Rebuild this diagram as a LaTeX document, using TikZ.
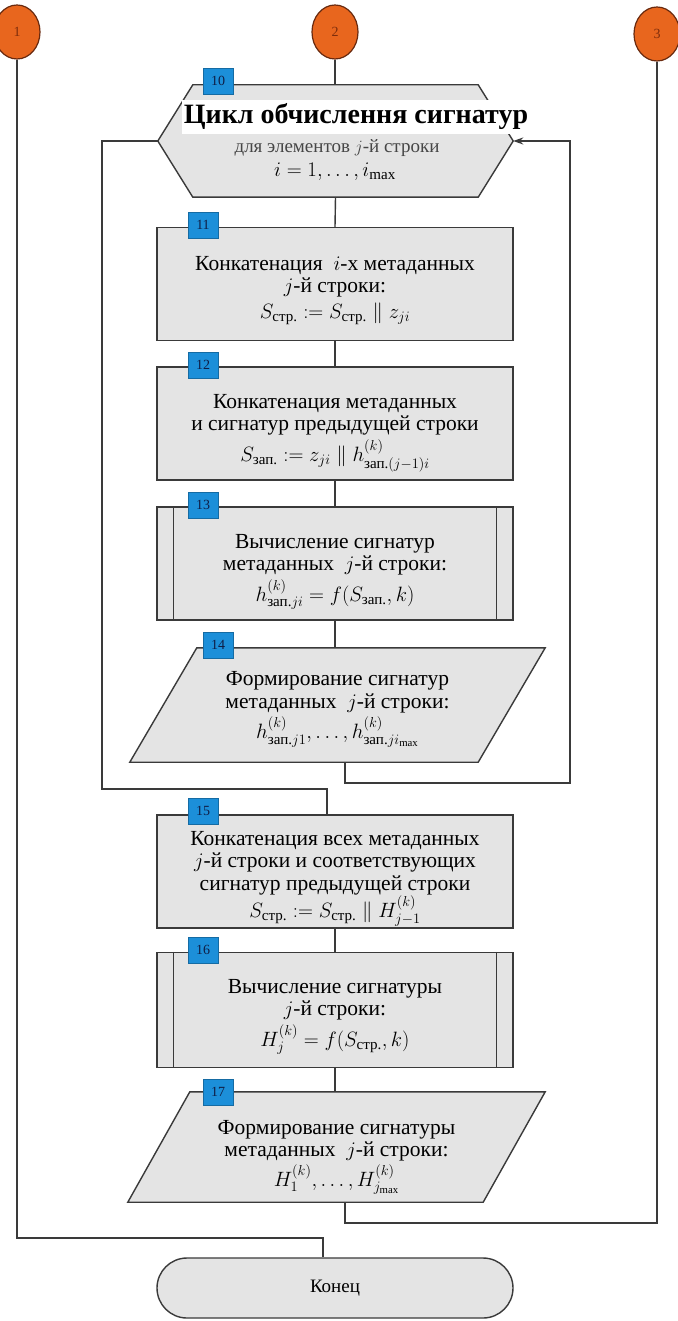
\documentclass[tikz,border=0pt]{standalone}
\usepackage{fontspec}
\setmainfont{Liberation Serif}
\usepackage{amsmath}
\usetikzlibrary{calc,arrows.meta,shapes.geometric,backgrounds}

\definecolor{linegray}{RGB}{58,58,58}
\definecolor{blockfill}{RGB}{228,228,228}
\definecolor{badgeblue}{RGB}{28,143,217}
\definecolor{badgetext}{RGB}{15,30,70}
\definecolor{connorange}{RGB}{232,102,30}
\definecolor{connedge}{RGB}{105,42,15}
\definecolor{conntext}{RGB}{125,45,12}
\definecolor{subtext}{RGB}{70,70,70}

% subscripts used in the formulas
\newcommand{\sstr}{\text{стр.}}
\newcommand{\szap}{\text{зап.}}
% taller first line, so that the text sits lower in its block
\newcommand{\pushdown}[1]{\rule{0pt}{#1}}

\begin{document}
\begin{tikzpicture}[x=1pt,y=-1pt,
  flow/.style={draw=linegray,line width=1.4pt},
  shapeline/.style={draw=linegray,fill=blockfill,line width=1.4pt},
  blockbox/.style={shapeline,minimum width=356pt,minimum height=113pt,inner sep=0pt,
    align=center,font=\fontsize{21.5}{22.5}\selectfont},
  holder/.style={inner sep=0pt,align=center,font=\fontsize{21.5}{22.5}\selectfont},
  badge/.style={fill=badgeblue,draw=badgeblue!75!black,line width=0.6pt,
    minimum width=30pt,minimum height=26pt,inner sep=0pt,
    font=\fontsize{14}{14}\selectfont,text=badgetext},
  connector/.style={shape=ellipse,fill=connorange,draw=connedge,line width=1.2pt,
    minimum width=46pt,minimum height=54pt,inner sep=0pt,
    font=\fontsize{14}{14}\selectfont,text=conntext},
  endbox/.style={shapeline,rounded corners=30pt,minimum width=356pt,minimum height=60pt,
    font=\fontsize{19}{20}\selectfont}
]
\useasboundingbox (0,0) rectangle (677,1321);
\begin{pgfonlayer}{background}
\fill[white] (0,0) rectangle (677,1321);
\end{pgfonlayer}

% off-page connectors
\node[connector] (c1) at (17,32) {1};
\node[connector] (c2) at (335,32) {2};
\node[connector] (c3) at (657,34) {3};

% 10: loop header (hexagon)
\node[holder,minimum width=355pt,minimum height=112pt] (n10) at (335.5,141) {};
\begin{pgfonlayer}{background}
\draw[shapeline] ($(n10.north west)+(35,0)$) -- ($(n10.north east)+(-35,0)$) -- (n10.east)
  -- ($(n10.south east)+(-35,0)$) -- ($(n10.south west)+(35,0)$) -- (n10.west) -- cycle;
\end{pgfonlayer}
\node[font=\fontsize{19}{20}\selectfont,text=subtext] (n10b) at (337,148) {для элементов $j$-й строки};
\node[font=\fontsize{21.5}{22.5}\selectfont] (n10c) at (335,172) {$i=1,\ldots,i_{\max}$};
\node[fill=white,inner xsep=2pt,inner ysep=4pt,font=\bfseries\fontsize{28}{30}\selectfont] (n10a) at (356,117) {Цикл обчислення сигнатур};

% 11..13
\node[blockbox] (n11) at (335,284) {\pushdown{27pt}Конкатенация \ $i$-х метаданных\\ $j$-й строки:\\[3pt] $S_{\sstr} := S_{\sstr}\parallel z_{ji}$};
\node[blockbox] (n12) at (335,423.5) {\pushdown{33pt}Конкатенация метаданных\\ и сигнатур предыдущей строки\\[3pt] $S_{\szap} := z_{ji}\parallel h^{(k)}_{\szap(j-1)i}$};
\node[blockbox] (n13) at (335,563.5) {\pushdown{31pt}Вычисление сигнатур\\ метаданных \ $j$-й строки:\\[3pt] $h^{(k)}_{\szap ji} = f(S_{\szap},k)$};
\draw[flow] ($(n13.north west)+(17,0)$) -- ($(n13.south west)+(17,0)$);
\draw[flow] ($(n13.north east)+(-17,0)$) -- ($(n13.south east)+(-17,0)$);

% 14: data output (parallelogram)
\node[holder,minimum width=415pt,minimum height=114pt] (n14) at (337.5,705) {\pushdown{23pt}Формирование сигнатур\\ метаданных \ $j$-й строки:\\[3pt] $h^{(k)}_{\szap j1},\ldots,h^{(k)}_{\szap ji_{\max}}$};
\begin{pgfonlayer}{background}
\draw[shapeline] (n14.south west) -- ($(n14.north west)+(67,0)$) -- (n14.north east)
  -- ($(n14.south east)+(-67,0)$) -- cycle;
\end{pgfonlayer}

% 15..16
\node[blockbox] (n15) at (335,871.5) {\pushdown{28pt}Конкатенация всех метаданных\\ $j$-й строки и соответствующих\\ сигнатур предыдущей строки\\ $S_{\sstr} := S_{\sstr}\parallel H^{(k)}_{j-1}$};
\node[blockbox,minimum height=115pt] (n16) at (335,1010) {\pushdown{28pt}Вычисление сигнатуры\\ $j$-й строки:\\[3pt] $H^{(k)}_j = f(S_{\sstr},k)$};
\draw[flow] ($(n16.north west)+(17,0)$) -- ($(n16.south west)+(17,0)$);
\draw[flow] ($(n16.north east)+(-17,0)$) -- ($(n16.south east)+(-17,0)$);

% 17: data output (parallelogram)
\node[holder,minimum width=417pt,minimum height=110pt] (n17) at (336.5,1147) {\pushdown{35pt}Формирование сигнатуры\\ метаданных \ $j$-й строки:\\[2pt] $H^{(k)}_1,\ldots,H^{(k)}_{j_{\max}}$};
\begin{pgfonlayer}{background}
\draw[shapeline] (n17.south west) -- ($(n17.north west)+(62,0)$) -- (n17.north east)
  -- ($(n17.south east)+(-62,0)$) -- cycle;
\end{pgfonlayer}

% terminator
\node[endbox] (fin) at (335,1288) {Конец};

% flow lines
\draw[flow] (c2.south) -- (c2.south |- n10.north);
\draw[flow] (n10.south) -- (n11.north);
\draw[flow] (n11.south) -- (n12.north);
\draw[flow] (n12.south) -- (n13.north);
\draw[flow] (n13.south) -- (n13.south |- n14.north);
\draw[flow] (n15.south) -- (n16.north);
\draw[flow] (n16.south) -- (n16.south |- n17.north);

% loop return and loop exit
\coordinate (rloop) at (570,783);
\coordinate (lloop) at (102,789);
\draw[flow,-{Stealth[length=10pt,width=7pt]}] ($(n14.south)+(7.5,0)$) |- (rloop) |- (n10.east);
\draw[flow] (n10.west) -| (lloop) -| ($(n15.north)+(-8,0)$);

% ways to the other pages and to the end
\coordinate (rbot) at (657,1223);
\coordinate (lbot) at (323,1238);
\draw[flow] ($(n17.south)+(8.5,0)$) |- (rbot) -- (c3.south);
\draw[flow] (c1.south) |- (lbot) -- (lbot |- fin.north);

% block numbers
\node[badge] (b10) at (218,81) {10};
\node[badge] (b11) at (203,225) {11};
\node[badge] (b12) at (203,365) {12};
\node[badge] (b13) at (203,505) {13};
\node[badge] (b14) at (218,645) {14};
\node[badge] (b15) at (203,811) {15};
\node[badge] (b16) at (203,950) {16};
\node[badge] (b17) at (218,1092) {17};
\end{tikzpicture}
\end{document}
